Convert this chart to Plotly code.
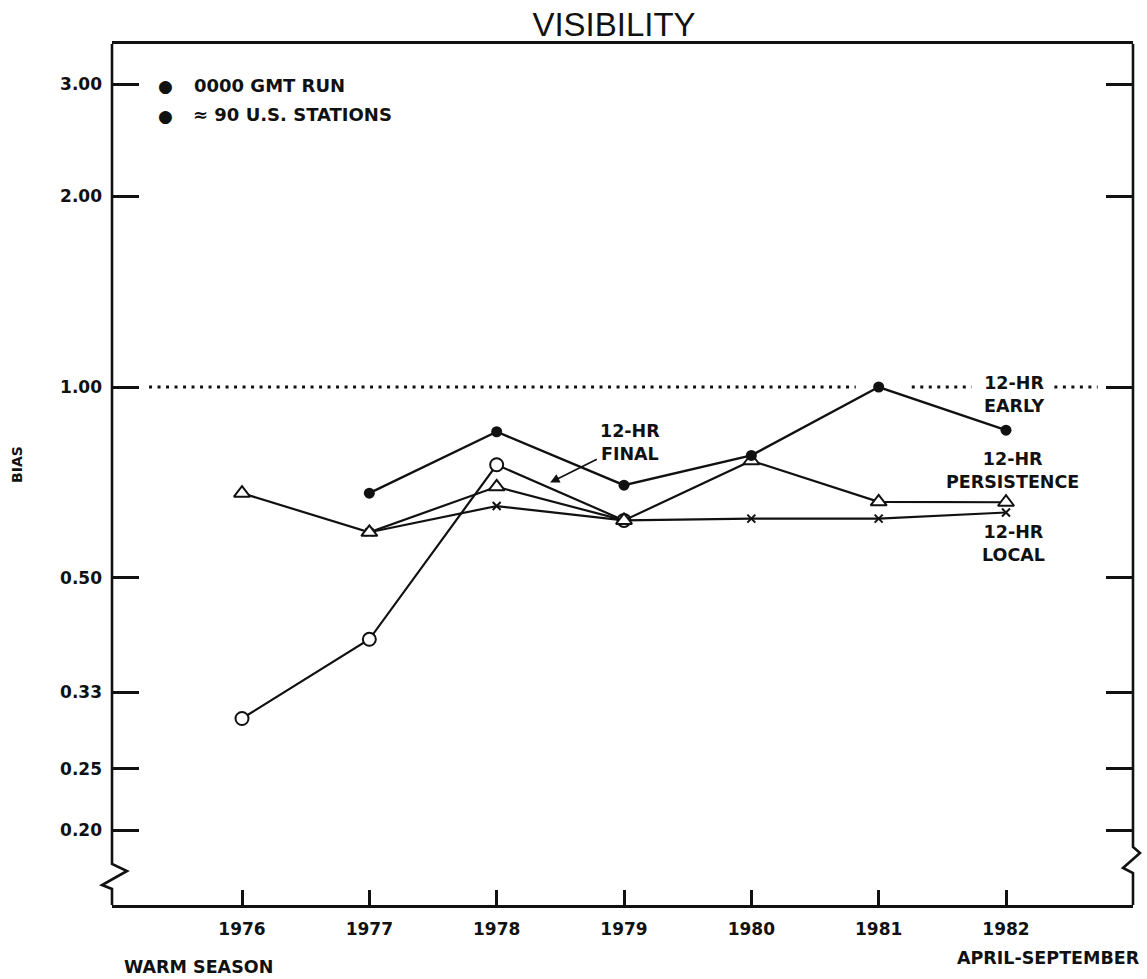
import math
import plotly.graph_objects as go

# ---- data -------------------------------------------------------------
years = [1976, 1977, 1978, 1979, 1980, 1981, 1982]
year_labels = ["1976", "1977", "1978", "1979", "1980", "1981", "1982"]

# visibility bias by warm season (April-September), 0000 GMT run
early = [None, 0.68, 0.85, 0.70, 0.78, 1.00, 0.855]          # 12-HR EARLY
final = [0.30, 0.40, 0.754, 0.616, None, None, None]          # 12-HR FINAL
persistence = [0.68, 0.59, 0.696, 0.616, 0.765, 0.659, 0.658]  # 12-HR PERSISTENCE
local = [None, 0.59, 0.649, 0.616, 0.62, 0.62, 0.634]         # 12-HR LOCAL

bias_ticks = [0.20, 0.25, 0.33, 0.50, 1.00, 2.00, 3.00]
bias_labels = ["0.20", "0.25", "0.33", "0.50", "1.00", "2.00", "3.00"]

# unbiased reference line, broken around the 1981 point and its label
unbiased = 1.0
ref_line_x = [1975.27, 1980.82, None, 1981.26, 1981.73, None, 1982.38, 1982.72]

# ---- styling ------------------------------------------------------------
INK = "#111111"
BOLD = "DejaVu Sans"
W, H = 1147, 979
L, R, T, B = 112, 14, 44, 74
PW, PH = W - L - R, H - T - B


def px_x(p):
    """pixel column -> paper x"""
    return (p - L) / PW


def px_y(p):
    """pixel row -> paper y"""
    return (T + PH - p) / PH


fig = go.Figure()

ref_y = [None if v is None else unbiased for v in ref_line_x]
fig.add_trace(go.Scatter(
    x=ref_line_x, y=ref_y, mode="lines",
    line=dict(color=INK, width=3, dash="3px,5.5px"),
    hoverinfo="skip", connectgaps=False,
))

fig.add_trace(go.Scatter(
    x=years, y=local, mode="lines+markers", name="12-HR LOCAL",
    line=dict(color=INK, width=2.2),
    marker=dict(symbol="x-thin", size=8, line=dict(color=INK, width=2)),
))
fig.add_trace(go.Scatter(
    x=years, y=final, mode="lines+markers", name="12-HR FINAL",
    line=dict(color=INK, width=2.2),
    marker=dict(symbol="circle", size=13, color="white",
                line=dict(color=INK, width=2)),
))
fig.add_trace(go.Scatter(
    x=years, y=persistence, mode="lines+markers", name="12-HR PERSISTENCE",
    line=dict(color=INK, width=2.2),
    marker=dict(symbol="triangle-up", size=14, color="white",
                line=dict(color=INK, width=2)),
))
fig.add_trace(go.Scatter(
    x=years, y=early, mode="lines+markers", name="12-HR EARLY",
    line=dict(color=INK, width=2.4),
    marker=dict(symbol="circle", size=11, color=INK),
))

# ---- axes -----------------------------------------------------------------
x0 = years[0] - (242 - L) / 127.33
x1 = years[-1] + (W - R - 1006) / 127.33
fig.update_xaxes(
    range=[x0, x1], tickvals=years, ticktext=year_labels,
    showline=True, mirror=True, linecolor=INK, linewidth=2.6,
    ticks="inside", ticklen=15, tickwidth=2.5, tickcolor=INK,
    ticklabelstandoff=7,
    tickfont=dict(family=BOLD, size=17, color=INK, weight="bold"),
    showgrid=False, zeroline=False,
)
fig.update_yaxes(
    type="log", range=[-(905 - 387) / 634, (387 - 44) / 634],
    tickvals=bias_ticks, ticktext=bias_labels,
    showline=False, mirror="ticks",
    ticks="inside", ticklen=27, tickwidth=2.5, tickcolor=INK,
    ticklabelstandoff=9,
    tickfont=dict(family=BOLD, size=17, color=INK, weight="bold"),
    showgrid=False, zeroline=False,
)

# vertical frame sides with the axis-break zigzags near the bottom
left_pts = [(L, T), (L, 864), (L + 15, 871), (L - 10, 885), (L, 889), (L, T + PH)]
right_x = W - R
right_pts = [(right_x, T), (right_x, 847), (right_x + 7, 853), (right_x - 10, 868),
             (right_x, 873), (right_x, T + PH)]


def path_of(pts):
    return "M " + " L ".join(f"{px_x(a):.5f},{px_y(b):.5f}" for a, b in pts)


for pts in (left_pts, right_pts):
    fig.add_shape(type="path", path=path_of(pts), xref="paper", yref="paper",
                  line=dict(color=INK, width=2.6), layer="above")

# ---- text -----------------------------------------------------------------
label_font = dict(family=BOLD, size=17.5, color=INK, weight="bold")
note_font = dict(family=BOLD, size=17.5, color=INK, weight="bold")
legend_font = dict(family=BOLD, size=18, color=INK, weight="bold")

annotations = [
    # run notes, top left
    dict(x=px_x(165), y=px_y(86), text="●", font=dict(family=BOLD, size=17, color=INK),
         xref="paper", yref="paper", showarrow=False, xanchor="center", yanchor="middle"),
    dict(x=px_x(165), y=px_y(116), text="●", font=dict(family=BOLD, size=17, color=INK),
         xref="paper", yref="paper", showarrow=False, xanchor="center", yanchor="middle"),
    dict(x=px_x(192), y=px_y(85), text="0000 GMT RUN", font=legend_font,
         xref="paper", yref="paper", showarrow=False, xanchor="left", yanchor="middle"),
    dict(x=px_x(191), y=px_y(115), text="≈ 90 U.S. STATIONS", font=legend_font,
         xref="paper", yref="paper", showarrow=False, xanchor="left", yanchor="middle"),
    # axis captions
    dict(x=px_x(17), y=px_y(465), text="BIAS", textangle=-90,
         font=dict(family=BOLD, size=14, color=INK, weight="bold"),
         xref="paper", yref="paper", showarrow=False, xanchor="center", yanchor="middle"),
    dict(x=px_x(122), y=px_y(967), text="WARM SEASON", font=note_font,
         xref="paper", yref="paper", showarrow=False, xanchor="left", yanchor="middle"),
    dict(x=px_x(1142), y=px_y(958), text="APRIL-SEPTEMBER", font=note_font,
         xref="paper", yref="paper", showarrow=False, xanchor="right", yanchor="middle"),
    # series labels
    dict(x=1982.06, y=-0.0117, text="12-HR<br>EARLY", font=label_font,
         showarrow=False, xanchor="center", yanchor="middle"),
    dict(x=1982.05, y=-0.1315, text="12-HR<br>PERSISTENCE", font=label_font,
         showarrow=False, xanchor="center", yanchor="middle"),
    dict(x=1982.06, y=-0.2467, text="12-HR<br>LOCAL", font=label_font,
         showarrow=False, xanchor="center", yanchor="middle"),
    dict(x=1978.42, y=math.log10(0.7066), text="12-HR<br>FINAL", font=label_font,
         showarrow=True, ax=80, ay=-40, arrowhead=2, arrowsize=1.1,
         arrowwidth=1.7, arrowcolor=INK, standoff=0, startstandoff=2),
]

fig.update_layout(
    width=W, height=H, autosize=False,
    margin=dict(l=L, r=R, t=T, b=B, pad=0),
    paper_bgcolor="white", plot_bgcolor="white",
    showlegend=False,
    font=dict(family=BOLD, color=INK),
    title=dict(text="VISIBILITY", x=614 / W, xanchor="center",
               y=1 - 24 / H, yanchor="middle", xref="container", yref="container",
               font=dict(family="Liberation Sans", size=33, color=INK)),
    annotations=annotations,
)

fig.write_html("out.html")
